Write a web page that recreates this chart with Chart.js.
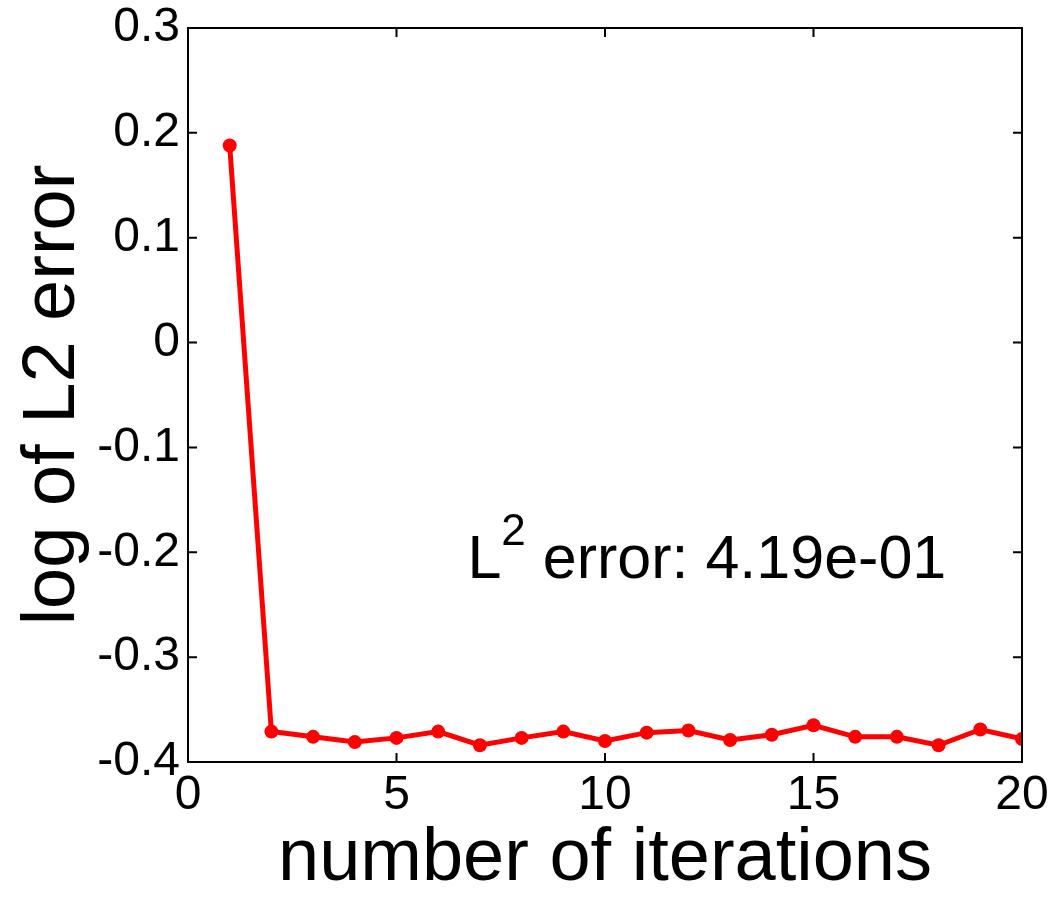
<!DOCTYPE html>
<html>
<head>
<meta charset="utf-8">
<script src="https://cdn.jsdelivr.net/npm/chart.js@4"></script>
<style>
  html, body { margin: 0; padding: 0; background: #fff; }
  #wrap { width: 1050px; height: 900px; }
</style>
</head>
<body>
<div id="wrap"><canvas id="errChart" width="1050" height="900"></canvas></div>
<script>
// iteration numbers and log of L2 error
const iterations = [1, 2, 3, 4, 5, 6, 7, 8, 9, 10, 11, 12, 13, 14, 15, 16, 17, 18, 19, 20];
const logErr = [0.188, -0.371, -0.376, -0.381, -0.377, -0.371, -0.384, -0.377, -0.371, -0.380,
                -0.372, -0.370, -0.379, -0.374, -0.365, -0.376, -0.376, -0.384, -0.369, -0.378];
const xTicks = [0, 5, 10, 15, 20];
const yTicks = [-0.4, -0.3, -0.2, -0.1, 0, 0.1, 0.2, 0.3];
const noteText = ' error: 4.19e-01';
const notePos = { x: 6.7, y: -0.2245 };

const FONT = '"Liberation Sans", Arial, Helvetica, sans-serif';

// MATLAB style box with inward ticks + the L^2 note
const boxPlugin = {
    id: 'boxPlugin',
    afterDatasetsDraw(chart) {
        const { ctx, chartArea: a, scales } = chart;
        const tl = 9;
        ctx.save();
        ctx.strokeStyle = '#000';
        ctx.lineWidth = 2;
        ctx.strokeRect(a.left, a.top, a.right - a.left, a.bottom - a.top);
        ctx.beginPath();
        xTicks.forEach(v => {
            const px = scales.x.getPixelForValue(v);
            ctx.moveTo(px, a.bottom); ctx.lineTo(px, a.bottom - tl);
            ctx.moveTo(px, a.top); ctx.lineTo(px, a.top + tl);
        });
        yTicks.forEach(v => {
            const py = scales.y.getPixelForValue(v);
            ctx.moveTo(a.left, py); ctx.lineTo(a.left + tl, py);
            ctx.moveTo(a.right, py); ctx.lineTo(a.right - tl, py);
        });
        ctx.stroke();

        // note text
        const nx = scales.x.getPixelForValue(notePos.x);
        const ny = scales.y.getPixelForValue(notePos.y);
        ctx.fillStyle = '#000';
        ctx.textBaseline = 'alphabetic';
        ctx.textAlign = 'left';
        ctx.font = '61px ' + FONT;
        ctx.fillText('L', nx, ny);
        let w = ctx.measureText('L').width;
        ctx.font = '44px ' + FONT;
        ctx.fillText('2', nx + w, ny - 33);
        w += ctx.measureText('2').width;
        ctx.font = '61px ' + FONT;
        ctx.fillText(noteText, nx + w, ny);
        ctx.restore();
    }
};

new Chart(document.getElementById('errChart').getContext('2d'), {
    type: 'line',
    data: {
        datasets: [{
            data: iterations.map((it, i) => ({ x: it, y: logErr[i] })),
            borderColor: '#ff0000',
            backgroundColor: '#ff0000',
            borderWidth: 5,
            pointRadius: 7,
            pointBorderWidth: 0,
            tension: 0
        }]
    },
    options: {
        responsive: false,
        animation: false,
        layout: { padding: { left: 0, right: 28, top: 28, bottom: 0 } },
        plugins: { legend: { display: false }, tooltip: { enabled: false } },
        scales: {
            x: {
                type: 'linear',
                min: 0, max: 20,
                afterBuildTicks: s => { s.ticks = xTicks.map(v => ({ value: v })); },
                afterFit: s => { s.height = 138; s.paddingLeft = 0; s.paddingRight = 0; },
                grid: { display: false, drawTicks: false },
                border: { display: false },
                ticks: { color: '#000', font: { family: FONT, size: 48 }, padding: 5, maxRotation: 0 },
                title: { display: true, text: 'number of iterations', color: '#000',
                         font: { family: FONT, size: 74, lineHeight: 1.1 }, padding: { top: 0, bottom: 0 } }
            },
            y: {
                min: -0.4, max: 0.3,
                afterBuildTicks: s => { s.ticks = yTicks.map(v => ({ value: v })); },
                afterFit: s => { s.width = 188; s.paddingTop = 0; s.paddingBottom = 0; },
                grid: { display: false, drawTicks: false },
                border: { display: false },
                ticks: { color: '#000', font: { family: FONT, size: 48 }, padding: 8,
                         callback: v => String(Math.round(v * 10) / 10) },
                title: { display: true, text: 'log of L2 error', color: '#000',
                         font: { family: FONT, size: 74 }, padding: { top: 9, bottom: 0 } }
            }
        }
    },
    plugins: [boxPlugin]
});
</script>
</body>
</html>
